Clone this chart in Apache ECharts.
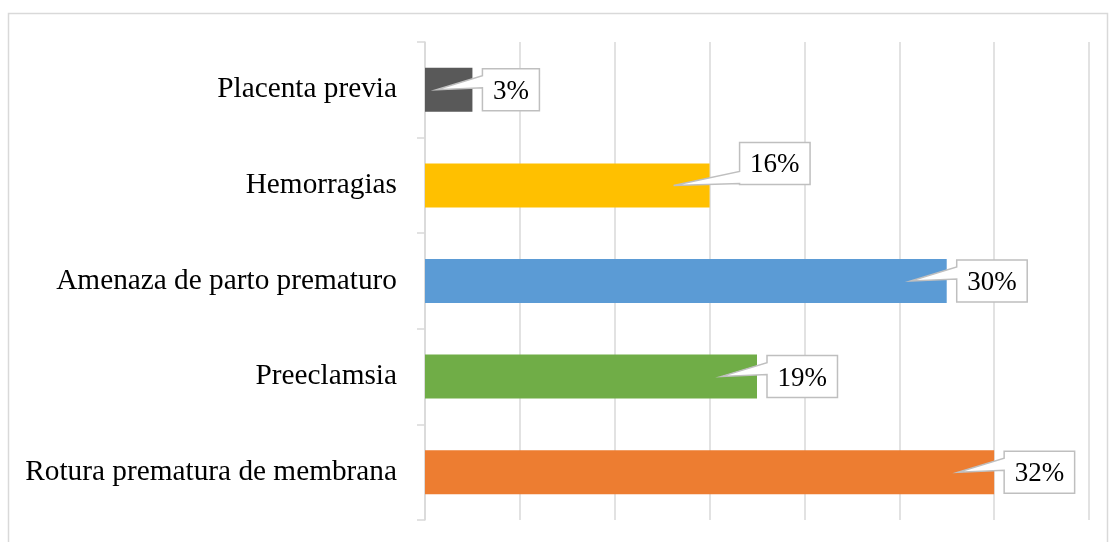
<!DOCTYPE html>
<html>
<head>
<meta charset="utf-8">
<script src="https://cdn.jsdelivr.net/npm/echarts@6/dist/echarts.min.js"></script>
<style>
html,body{margin:0;padding:0;background:#fff;}
#chart{width:1109px;height:542px;}
</style>
</head>
<body>
<div id="chart"></div>
<script>
// Categories listed bottom-to-top (as ECharts draws a category y axis)
const categories = ['Rotura prematura de membrana', 'Preeclamsia', 'Amenaza de parto prematuro', 'Hemorragias', 'Placenta previa'];
// Case counts (total 37) -> percentages shown in the callouts
const counts = [12, 7, 11, 6, 1];
const barColors = ['#ED7D31', '#70AD47', '#5B9BD5', '#FFC000', '#595959'];
const xTicks = [0, 2, 4, 6, 8, 10, 12, 14];

const total = counts.reduce((a, b) => a + b, 0);
const pctLabels = counts.map(v => Math.round(v / total * 100) + '%');

// callout layout (style, not data): default gap right of bar end; special nudge for one label
const calloutNudge = { 'Hemorragias': [20, -22] };

const labelFont = '27px "Liberation Serif", "Times New Roman", serif';
const measureCtx = document.createElement('canvas').getContext('2d');
measureCtx.font = labelFont;

const chart = echarts.init(document.getElementById('chart'));

chart.setOption({
  animation: false,
  backgroundColor: '#fff',
  graphic: [{
    type: 'rect',
    shape: { x: 8.5, y: 13.5, width: 1099, height: 540 },
    style: { fill: 'none', stroke: '#d9d9d9', lineWidth: 1.5 },
    silent: true, z: -1
  }],
  grid: { left: 425, right: 20, top: 42, bottom: 22, containLabel: false },
  xAxis: {
    type: 'value',
    min: xTicks[0], max: xTicks[xTicks.length - 1], interval: 2,
    axisLabel: { show: false },
    axisLine: { show: false },
    axisTick: { show: false },
    splitLine: { show: true, lineStyle: { color: '#d9d9d9', width: 1.5 } }
  },
  yAxis: {
    type: 'category',
    data: categories,
    boundaryGap: true,
    axisLine: { show: true, lineStyle: { color: '#d9d9d9', width: 1.5 } },
    axisTick: { show: true, length: 8, lineStyle: { color: '#d9d9d9', width: 1.5 } },
    axisLabel: {
      margin: 28,
      color: '#000',
      fontFamily: '"Liberation Serif", "Times New Roman", serif',
      fontSize: 29.3,
      padding: [6, 0, 0, 0]
    },
    splitLine: { show: false }
  },
  series: [{
    type: 'bar',
    barWidth: 44,
    data: counts.map((v, i) => ({ value: v, itemStyle: { color: barColors[i] } })),
    z: 2
  }, {
    type: 'custom',
    clip: false,
    z: 5,
    encode: { x: 0, y: 1 },
    data: counts.map((v, i) => [v, i]),
    renderItem: function (params, api) {
      const v = api.value(0);
      const idx = api.value(1);
      const end = api.coord([v, idx]);
      const start = api.coord([0, idx]);
      const cat = categories[idx];
      const nudge = calloutNudge[cat] || [0, 0];
      const text = pctLabels[idx];
      const tw = measureCtx.measureText(text).width;
      const w = tw + 21, h = 42;
      const L = end[0] + 10 + nudge[0];
      const T = end[1] - h / 2 + nudge[1];
      const R = L + w, B = T + h;
      const tx = Math.max(start[0] + 7, end[0] - 36);
      const ty = end[1];
      let bc = Math.min(Math.max(ty - 8, T + 7), B - 7);
      const pts = [[tx, ty], [L, bc - 6], [L, T], [R, T], [R, B], [L, B], [L, bc + 6]];
      return {
        type: 'group',
        children: [{
          type: 'polygon',
          shape: { points: pts },
          style: { fill: '#fff', stroke: '#bfbfbf', lineWidth: 1.5 }
        }, {
          type: 'text',
          style: {
            x: (L + R) / 2, y: (T + B) / 2 + 2,
            text: text,
            align: 'center', verticalAlign: 'middle',
            font: labelFont, fill: '#000'
          }
        }]
      };
    }
  }]
});
</script>
</body>
</html>
